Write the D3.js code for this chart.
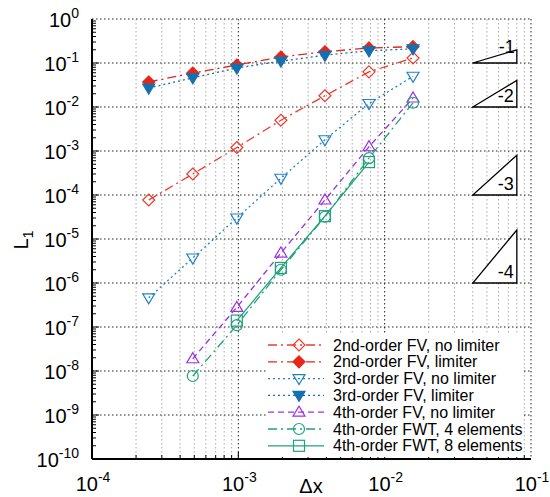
<!DOCTYPE html>
<meta charset="utf-8">
<style>
  body { margin: 0; background: #fff; }
  text { font-family: "Liberation Sans", Arial, sans-serif; fill: #000; }
  .grid-major { stroke: #222; stroke-dasharray: 1.5,2.5; stroke-width: 1; }
  .grid-minor { stroke: #aaa; stroke-dasharray: 1.5,2.5; stroke-width: 1; }
</style>
<body>
<div id="chart"></div>
<script src="https://d3js.org/d3.v7.min.js"></script>
<script>
  // grid spacings
  var dx = [1/4096, 1/2048, 1/1024, 1/512, 1/256, 1/128, 1/64];

  var fv2NoLim = [7.7e-5, 3.0e-4, 1.2e-3, 5.0e-3, 1.8e-2, 6.3e-2, 0.13];
  var fv2Lim   = [0.037, 0.059, 0.09, 0.137, 0.18, 0.22, 0.235];
  var fv3NoLim = [4.6e-7, 3.7e-6, 3.0e-5, 2.4e-4, 1.8e-3, 1.2e-2, 0.05];
  var fv3Lim   = [0.027, 0.046, 0.077, 0.11, 0.15, 0.19, 0.21];
  var fv4NoLim = [null, 1.9e-8, 2.8e-7, 4.8e-6, 7.7e-5, 1.25e-3, 0.016];
  var fwt4     = [null, 7.7e-9, 1.1e-7, 2.0e-6, 3.2e-5, 6.9e-4, 0.0125];
  var fwt8     = [null, null, 1.4e-7, 2.2e-6, 3.3e-5, 5.6e-4, null];

  var xTicks = [1e-4, 1e-3, 1e-2, 1e-1];
  var yTicks = d3.range(0, -11, -1);

  // slope triangles: [order, x0, x1, base y]
  var slopes = [[1, 0.04, 0.08, 1e-1], [2, 0.04, 0.08, 1e-2], [3, 0.04, 0.08, 1e-4], [4, 0.04, 0.08, 1e-6]];

  var series = [
    {name: "2nd-order FV, no limiter", y: fv2NoLim, color: "#ee3a2c", dash: "9,4,2,4", marker: "diamond", fill: false},
    {name: "2nd-order FV, limiter", y: fv2Lim, color: "#e52618", dash: "9,4,2,4", marker: "diamond", fill: true},
    {name: "3rd-order FV, no limiter", y: fv3NoLim, color: "#2182c4", dash: "2,3", marker: "tridown", fill: false},
    {name: "3rd-order FV, limiter", y: fv3Lim, color: "#1570b0", dash: "2,3", marker: "tridown", fill: true},
    {name: "4th-order FV, no limiter", y: fv4NoLim, color: "#9b30e8", dash: "6,4", marker: "triup", fill: false},
    {name: "4th-order FWT, 4 elements", y: fwt4, color: "#1fa37c", dash: "9,4,2,4", marker: "circle", fill: false},
    {name: "4th-order FWT, 8 elements", y: fwt8, color: "#1fa37c", dash: null, marker: "square", fill: false}
  ];

  var W = 550, H = 497;
  var svg = d3.select("#chart").append("svg").attr("width", W).attr("height", H);

  var x = d3.scaleLog().domain([1e-4, 1e-1]).range([92, 531]);
  var y = d3.scaleLog().domain([1e-10, 1]).range([459, 19]);

  // grid
  var grid = svg.append("g");
  for (var e = -4; e < -1 + 1e-9; e++) {
    for (var m = 1; m < 10; m++) {
      var v = m * Math.pow(10, e);
      if (v > 0.1 * 1.0001) break;
      if (m == 1 && e == -4) continue;
      grid.append("line").attr("class", m == 1 ? "grid-major" : "grid-minor")
        .attr("x1", x(v)).attr("x2", x(v)).attr("y1", y(1)).attr("y2", y(1e-10));
    }
  }
  yTicks.forEach(function (p) {
    if (p == -10) return;
    grid.append("line").attr("class", "grid-major")
      .attr("x1", x(1e-4)).attr("x2", x(1e-1)).attr("y1", y(Math.pow(10, p))).attr("y2", y(Math.pow(10, p)));
  });

  // axes lines + ticks
  var ax = svg.append("g").attr("stroke", "#000");
  ax.append("line").attr("x1", x(1e-4)).attr("x2", x(1e-4)).attr("y1", y(1)).attr("y2", y(1e-10)).attr("stroke-width", 2);
  ax.append("line").attr("x1", x(1e-4)).attr("x2", x(1e-1)).attr("y1", y(1e-10)).attr("y2", y(1e-10)).attr("stroke-width", 2);
  for (var e2 = -10; e2 < 0; e2++) {
    for (var m2 = 1; m2 < 10; m2++) {
      var vy = m2 * Math.pow(10, e2);
      var len = m2 == 1 ? 7 : 4;
      ax.append("line").attr("x1", x(1e-4)).attr("x2", x(1e-4) + len).attr("y1", y(vy)).attr("y2", y(vy));
    }
  }
  for (var e3 = -4; e3 < -1; e3++) {
    for (var m3 = 1; m3 < 10; m3++) {
      var vx = m3 * Math.pow(10, e3);
      var len2 = m3 == 1 ? 7 : 4;
      ax.append("line").attr("x1", x(vx)).attr("x2", x(vx)).attr("y1", y(1e-10)).attr("y2", y(1e-10) - len2);
    }
  }

  // tick labels
  function powLabel(g, tx, ty, p, anchor) {
    var t = g.append("text").attr("x", tx).attr("y", ty).attr("text-anchor", anchor).style("font-size", "20px");
    t.append("tspan").text("10");
    t.append("tspan").attr("dy", -9).style("font-size", "14px").text(p);
  }
  yTicks.forEach(function (p) {
    powLabel(svg, 79, y(Math.pow(10, p)) + 8, p, "end");
  });
  xTicks.forEach(function (v) {
    powLabel(svg, x(v) + 1, 491, Math.round(Math.log10(v)), "middle");
  });

  // axis titles
  svg.append("text").attr("x", 311).attr("y", 493).attr("text-anchor", "middle").style("font-size", "20px").text("\u0394x");
  var yl = svg.append("text").attr("transform", "translate(28,240) rotate(-90)")
    .attr("text-anchor", "middle").style("font-size", "20px");
  yl.append("tspan").text("L");
  yl.append("tspan").attr("dy", 5).style("font-size", "14px").text("1");

  // slope triangles
  var tri = svg.append("g");
  slopes.forEach(function (s) {
    var n = s[0], x0 = s[1], x1 = s[2], yb = s[3];
    var yt = yb * Math.pow(x1 / x0, n);
    tri.append("path")
      .attr("d", "M" + x(x0) + "," + y(yb) + "L" + x(x1) + "," + y(yb) + "L" + x(x1) + "," + y(yt) + "Z")
      .attr("fill", "#fff").attr("stroke", "#000").attr("stroke-width", 1.3);
    if (n == 1) {
      tri.append("text").attr("x", x(x1) - 2).attr("y", y(yt) + 3).attr("text-anchor", "end")
        .style("font-size", "18px").text("-" + n);
    } else {
      tri.append("text").attr("x", x(x1) - 3).attr("y", y(yb) - 5).attr("text-anchor", "end")
        .style("font-size", "18px").text("-" + n);
    }
  });

  // markers
  function drawMarker(g, type, cx, cy, color, fill) {
    var el;
    if (type == "diamond") {
      el = g.append("path").attr("d", "M" + cx + "," + (cy - 6) + "L" + (cx + 6) + "," + cy + "L" + cx + "," + (cy + 6) + "L" + (cx - 6) + "," + cy + "Z");
    } else if (type == "tridown") {
      el = g.append("path").attr("d", "M" + (cx - 6) + "," + (cy - 4) + "L" + (cx + 6) + "," + (cy - 4) + "L" + cx + "," + (cy + 6) + "Z");
    } else if (type == "triup") {
      el = g.append("path").attr("d", "M" + (cx - 6) + "," + (cy + 4) + "L" + (cx + 6) + "," + (cy + 4) + "L" + cx + "," + (cy - 6) + "Z");
    } else if (type == "circle") {
      el = g.append("circle").attr("cx", cx).attr("cy", cy).attr("r", 5.5);
    } else {
      el = g.append("rect").attr("x", cx - 5.5).attr("y", cy - 5.5).attr("width", 11).attr("height", 11);
    }
    el.attr("stroke", color).attr("stroke-width", 1.2).attr("fill", fill ? color : "none");
  }

  var line = d3.line()
    .defined(function (d) { return d[1] != null; })
    .x(function (d) { return x(d[0]); })
    .y(function (d) { return y(d[1]); });

  var plot = svg.append("g");
  series.forEach(function (s) {
    var pts = dx.map(function (v, i) { return [v, s.y[i]]; });
    plot.append("path").datum(pts).attr("d", line)
      .attr("fill", "none").attr("stroke", s.color).attr("stroke-width", 1.3)
      .attr("stroke-dasharray", s.dash);
    pts.forEach(function (p) {
      if (p[1] != null) drawMarker(plot, s.marker, x(p[0]), y(p[1]), s.color, s.fill);
    });
  });

  // legend
  var lg = svg.append("g");
  lg.append("rect").attr("x", 266).attr("y", 334).attr("width", 257).attr("height", 123).attr("fill", "#fff");
  series.forEach(function (s, i) {
    var ly = 345 + i * 16.8;
    lg.append("line").attr("x1", 268).attr("x2", 324).attr("y1", ly).attr("y2", ly)
      .attr("stroke", s.color).attr("stroke-width", 1.3).attr("stroke-dasharray", s.dash);
    drawMarker(lg, s.marker, 299, ly, s.color, s.fill);
    lg.append("text").attr("x", 333).attr("y", ly + 5.5).style("font-size", "16px").text(s.name);
  });
</script>
</body>
